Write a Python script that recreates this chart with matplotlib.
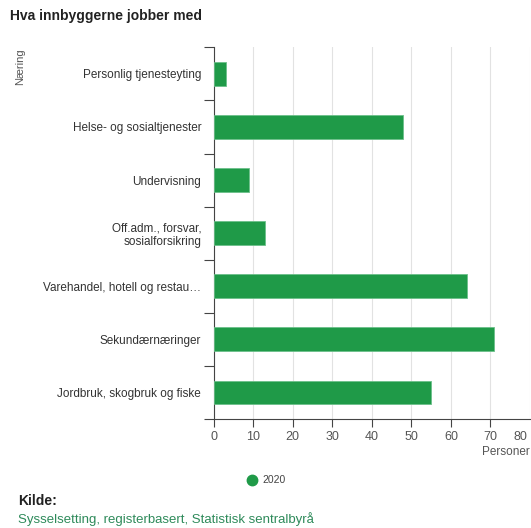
import matplotlib
matplotlib.use("Agg")
import matplotlib.pyplot as plt
import matplotlib.transforms as mtransforms

plt.rcParams['font.family'] = ['Liberation Sans', 'DejaVu Sans']

categories = [
    "Personlig tjenesteyting",
    "Helse- og sosialtjenester",
    "Undervisning",
    "Off.adm., forsvar,\nsosialforsikring",
    "Varehandel, hotell og restau\u2026",
    "Sekund\u00e6rn\u00e6ringer",
    "Jordbruk, skogbruk og fiske",
]
values_2020 = [3, 48, 9, 13, 64, 71, 55]
x_ticks = [0, 10, 20, 30, 40, 50, 60, 70, 80]

GREEN = "#1f9a48"
W, H = 531, 528
fig = plt.figure(figsize=(W / 100, H / 100), dpi=100)
fig.patch.set_facecolor("white")

# axes box in pixel coordinates
left, right, top, bottom = 213.7, 530.0, 47.3, 419.0
ax = fig.add_axes([left / W, 1 - bottom / H, (right - left) / W, (bottom - top) / H])

ypos = list(range(len(categories)))
ax.barh(ypos, values_2020, height=0.45, color=GREEN, edgecolor="#6cc08a", linewidth=0.6, zorder=3)
ax.set_ylim(len(categories) - 0.5, -0.5)
ax.set_xlim(0, 80)
ax.set_xticks(x_ticks)
ax.set_xticklabels([str(t) for t in x_ticks], fontsize=9, color="#555555")
ax.set_yticks(ypos)
ax.set_yticklabels(categories, fontsize=8.5, color="#333333", ha="right")
ax.set_yticks([i + 0.5 for i in range(-1, len(categories))], minor=True)
ax.tick_params(axis="y", which="major", length=0, pad=9)
ax.tick_params(axis="y", which="minor", length=7, color="#444444", width=0.8)
ax.tick_params(axis="x", length=6, color="#444444", width=0.8, pad=3)

# keep the last tick label inside the canvas
last = ax.get_xticklabels()[-1]
last.set_horizontalalignment("right")
last.set_transform(last.get_transform() + mtransforms.ScaledTranslation(-3 / 100, 0, fig.dpi_scale_trans))
ax.get_xaxis().get_major_ticks()[-1].tick1line.set_visible(False)

ax.grid(axis="x", color="#e2e2e2", linewidth=0.8, zorder=0)
for s in ["top", "right"]:
    ax.spines[s].set_visible(False)
for s in ["left", "bottom"]:
    ax.spines[s].set_color("#444444")
    ax.spines[s].set_linewidth(0.8)
ax.set_facecolor("white")

fig.text(10 / W, 1 - 16 / H, "Hva innbyggerne jobber med", fontsize=10, fontweight="bold",
         color="#222222", va="center", ha="left")
fig.text(20 / W, 1 - 48 / H, "N\u00e6ring", fontsize=8, color="#555555", rotation=90,
         va="top", ha="center")
fig.text(530 / W, 1 - 452 / H, "Personer", fontsize=8.5, color="#555555", va="center", ha="right")

# legend
fig.text(262 / W, 1 - 480 / H, "2020", fontsize=7.5, color="#444444", va="center", ha="left")
fig.add_artist(plt.Line2D([252 / W], [1 - 480 / H], marker="o", markersize=7.5,
                          color=GREEN, transform=fig.transFigure, linestyle="none"))

fig.text(18 / W, 1 - 501 / H, "Kilde:", fontsize=10, fontweight="bold", color="#222222",
         va="center", ha="left")
fig.text(18 / W, 1 - 519 / H, "Sysselsetting, registerbasert, Statistisk sentralbyr\u00e5",
         fontsize=9.5, color="#2e8a5a", va="center", ha="left")

fig.savefig("out.png", dpi=100)
